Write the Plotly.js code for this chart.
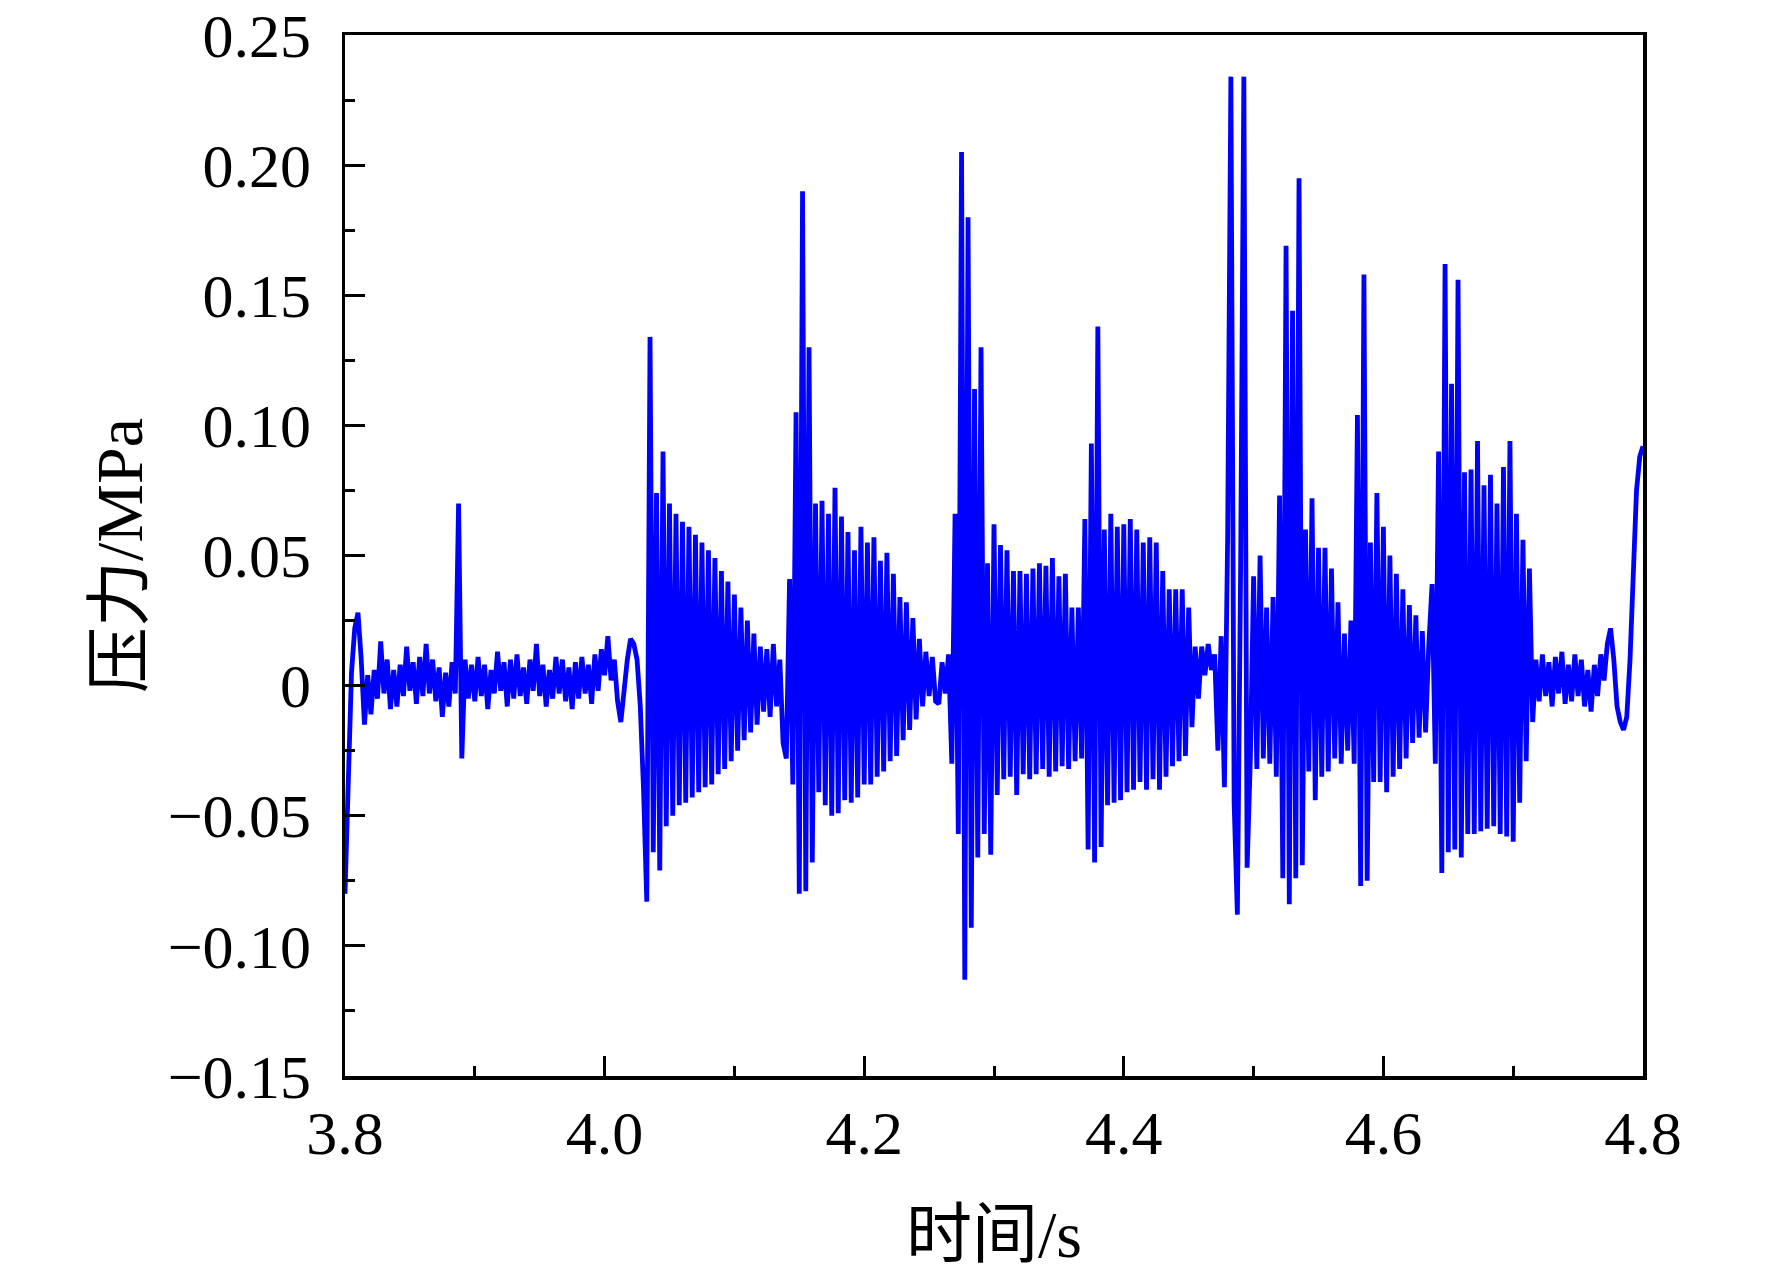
<!DOCTYPE html>
<html>
<head>
<meta charset="utf-8">
<script src="https://cdn.plot.ly/plotly-3.0.1.min.js"></script>
<style>html,body{margin:0;padding:0;background:#fff}</style>
</head>
<body>
<div id="chart" style="width:1772px;height:1274px"></div>
<script>
// trace is sampled every 2.5 ms from 3.8 s
const tStart = 3.8;
const tStep = 0.0025;

// pressure in MPa, one block per 0.1 s (40 samples each, last one 41)
const p380 = [-0.080, -0.040, 0.005, 0.022, 0.028, 0.010, -0.015, 0.004, -0.011, 0.006,
  -0.005, 0.017, -0.003, 0.010, -0.009, 0.006, -0.008, 0.008, -0.004, 0.015,
  -0.002, 0.009, -0.007, 0.011, -0.004, 0.016, -0.003, 0.010, -0.006, 0.007,
  -0.012, 0.005, -0.008, 0.009, -0.003, 0.070, -0.028, 0.010, -0.005, 0.008];
const p390 = [-0.006, 0.011, -0.004, 0.008, -0.009, 0.006, -0.003, 0.013, -0.002, 0.009,
  -0.008, 0.010, -0.005, 0.012, -0.004, 0.007, -0.007, 0.010, -0.002, 0.016,
  -0.004, 0.008, -0.008, 0.006, -0.005, 0.011, -0.003, 0.010, -0.006, 0.007,
  -0.009, 0.009, -0.005, 0.011, -0.003, 0.008, -0.007, 0.012, -0.002, 0.014];
const p400 = [0.004, 0.019, 0.002, 0.010, -0.006, -0.014, 0.000, 0.010, 0.018, 0.016,
  0.010, -0.008, -0.040, -0.083, 0.134, -0.064, 0.074, -0.071, 0.090, -0.054,
  0.070, -0.050, 0.066, -0.046, 0.063, -0.045, 0.061, -0.043, 0.058, -0.041,
  0.055, -0.039, 0.052, -0.038, 0.049, -0.034, 0.044, -0.032, 0.040, -0.029];
const p410 = [0.035, -0.025, 0.030, -0.021, 0.025, -0.018, 0.020, -0.015, 0.015, -0.010,
  0.014, -0.012, 0.016, -0.008, 0.010, -0.022, -0.028, 0.041, -0.038, 0.105,
  -0.080, 0.190, -0.079, 0.130, -0.068, 0.070, -0.041, 0.071, -0.046, 0.066,
  -0.050, 0.076, -0.049, 0.065, -0.044, 0.059, -0.045, 0.052, -0.043, 0.061];
const p420 = [-0.038, 0.055, -0.038, 0.057, -0.035, 0.048, -0.033, 0.051, -0.029, 0.043,
  -0.027, 0.034, -0.021, 0.032, -0.017, 0.026, -0.013, 0.018, -0.008, 0.013,
  -0.004, 0.011, -0.006, -0.007, 0.009, -0.003, 0.012, -0.030, 0.066, -0.057,
  0.205, -0.113, 0.180, -0.093, 0.114, -0.066, 0.130, -0.057, 0.047, -0.065];
const p430 = [0.062, -0.042, 0.054, -0.036, 0.052, -0.035, 0.044, -0.042, 0.044, -0.034,
  0.043, -0.036, 0.045, -0.034, 0.047, -0.032, 0.046, -0.035, 0.049, -0.033,
  0.042, -0.031, 0.043, -0.032, 0.030, -0.029, 0.030, -0.028, 0.064, -0.063,
  0.093, -0.068, 0.138, -0.062, 0.060, -0.046, 0.066, -0.045, 0.061, -0.044];
const p440 = [0.062, -0.041, 0.064, -0.040, 0.060, -0.037, 0.055, -0.040, 0.057, -0.036,
  0.055, -0.040, 0.044, -0.035, 0.037, -0.031, 0.037, -0.029, 0.037, -0.027,
  0.030, -0.016, 0.015, -0.005, 0.015, 0.004, 0.016, 0.006, 0.012, -0.025,
  0.019, -0.039, 0.057, 0.234, -0.045, -0.088, 0.045, 0.234, -0.070, -0.028];
const p450 = [0.042, -0.032, 0.050, -0.028, 0.030, -0.030, 0.034, -0.035, 0.073, -0.074,
  0.169, -0.084, 0.144, -0.074, 0.195, -0.069, 0.060, -0.033, 0.072, -0.044,
  0.053, -0.035, 0.053, -0.033, 0.045, -0.028, 0.032, -0.030, 0.020, -0.025,
  0.025, -0.030, 0.104, -0.077, 0.158, -0.075, 0.055, -0.037, 0.074, -0.037];
const p460 = [0.061, -0.041, 0.050, -0.035, 0.043, -0.032, 0.037, -0.028, 0.031, -0.022,
  0.027, -0.020, 0.021, -0.018, 0.016, 0.039, -0.030, 0.090, -0.072, 0.162,
  -0.064, 0.116, -0.063, 0.156, -0.066, 0.082, -0.057, 0.083, -0.057, 0.094,
  -0.056, 0.077, -0.055, 0.081, -0.054, 0.070, -0.057, 0.084, -0.058, 0.094];
const p470 = [-0.060, 0.066, -0.045, 0.056, -0.029, 0.045, -0.014, 0.010, -0.006, 0.012,
  -0.004, 0.009, -0.008, 0.011, -0.003, 0.013, -0.007, 0.008, -0.006, 0.012,
  -0.004, 0.010, -0.008, 0.006, -0.010, 0.008, -0.004, 0.012, 0.002, 0.016,
  0.022, 0.010, -0.008, -0.014, -0.017, -0.012, 0.010, 0.045, 0.075, 0.088,
  0.092];

const pressure = [].concat(p380, p390, p400, p410, p420, p430, p440, p450, p460, p470);
const time = pressure.map((v, i) => +(tStart + i * tStep).toFixed(4));

const yTickVals = [-0.15, -0.10, -0.05, 0, 0.05, 0.10, 0.15, 0.20, 0.25];
const yTickText = ['\u22120.15', '\u22120.10', '\u22120.05', '0', '0.05', '0.10', '0.15', '0.20', '0.25'];
const xTickVals = [3.8, 4.0, 4.2, 4.4, 4.6, 4.8];
const xTickText = ['3.8', '4.0', '4.2', '4.4', '4.6', '4.8'];

const serif = 'Liberation Serif, Noto Sans CJK SC, serif';

const trace = {
  x: time,
  y: pressure,
  type: 'scatter',
  mode: 'lines',
  line: {color: '#0000ff', width: 4.8},
  hoverinfo: 'skip'
};

const axisBase = {
  showline: true,
  linecolor: '#000',
  linewidth: 3.5,
  mirror: true,
  showgrid: false,
  zeroline: false,
  ticks: 'inside',
  ticklen: 20,
  tickwidth: 3,
  tickcolor: '#000',
  ticklabeloverflow: 'allow',
  tickfont: {family: serif, size: 62, color: '#000'}
};

const layout = {
  width: 1772,
  height: 1274,
  margin: {l: 345, r: 129, t: 35, b: 198},
  paper_bgcolor: '#fff',
  plot_bgcolor: '#fff',
  showlegend: false,
  xaxis: Object.assign({}, axisBase, {
    range: [3.8, 4.8],
    tickmode: 'array',
    tickvals: xTickVals,
    ticktext: xTickText,
    ticklabelstandoff: 0,
    minor: {dtick: 0.1, ticks: 'inside', ticklen: 10, tickwidth: 3, tickcolor: '#000', showgrid: false},
    title: {text: '时间/s', font: {family: serif, size: 66, color: '#000'}, standoff: 46}
  }),
  yaxis: Object.assign({}, axisBase, {
    range: [-0.15, 0.25],
    tickmode: 'array',
    tickvals: yTickVals,
    ticktext: yTickText,
    ticklabelstandoff: 18,
    minor: {dtick: 0.025, ticks: 'inside', ticklen: 10, tickwidth: 3, tickcolor: '#000', showgrid: false},
    title: {text: '压力/MPa', font: {family: serif, size: 66, color: '#000'}, standoff: 4}
  })
};

Plotly.newPlot('chart', [trace], layout, {staticPlot: true, displayModeBar: false});
</script>
</body>
</html>
